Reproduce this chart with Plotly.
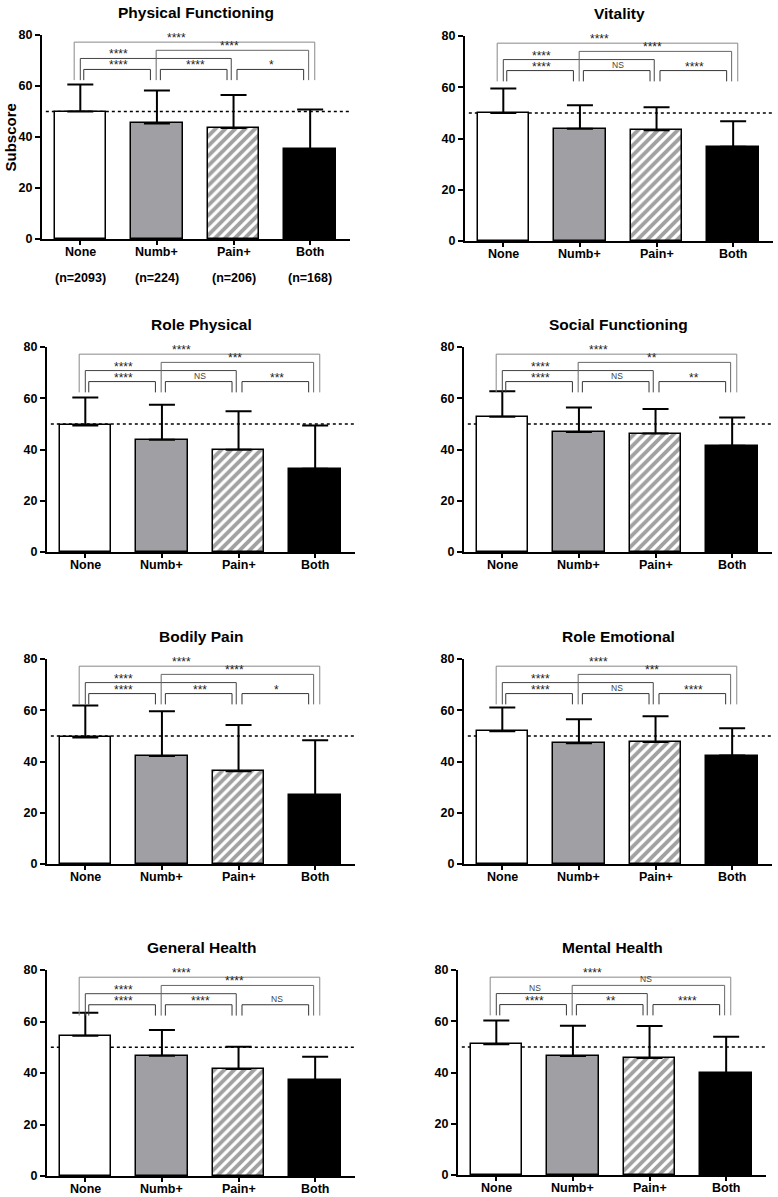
import plotly.graph_objects as go

# ---------------- data ----------------
categories = ["None", "Numb+", "Pain+", "Both"]
group_sizes = ["(n=2093)", "(n=224)", "(n=206)", "(n=168)"]
titles = ["Physical Functioning", "Vitality", "Role Physical", "Social Functioning",
          "Bodily Pain", "Role Emotional", "General Health", "Mental Health"]

# mean subscores (bar heights)
pf_mean = [50.0, 45.3, 43.5, 35.2]
vt_mean = [50.0, 43.8, 43.2, 36.8]
rp_mean = [49.4, 43.8, 39.9, 32.5]
sf_mean = [52.8, 46.8, 46.2, 41.5]
bp_mean = [49.4, 42.1, 36.2, 26.9]
re_mean = [51.8, 47.1, 47.6, 42.3]
gh_mean = [54.5, 46.7, 41.6, 37.1]
mh_mean = [51.0, 46.4, 45.7, 39.7]

# top of the error bar (mean + SD)
pf_upper = [60.6, 58.2, 56.5, 50.8]
vt_upper = [59.5, 53.0, 52.2, 46.7]
rp_upper = [60.3, 57.5, 54.9, 49.4]
sf_upper = [62.7, 56.4, 55.8, 52.5]
bp_upper = [61.9, 59.6, 54.2, 48.3]
re_upper = [61.1, 56.5, 57.7, 53.0]
gh_upper = [63.4, 56.7, 50.2, 46.3]
mh_upper = [60.3, 58.2, 58.1, 54.0]

# comparisons: (0,1) (1,2) (2,3) (0,2) (1,3) (0,3)
comparisons = [(0, 1), (1, 2), (2, 3), (0, 2), (1, 3), (0, 3)]
pf_sig = ["****", "****", "*", "****", "****", "****"]
vt_sig = ["****", "NS", "****", "****", "****", "****"]
rp_sig = ["****", "NS", "***", "****", "***", "****"]
sf_sig = ["****", "NS", "**", "****", "**", "****"]
bp_sig = ["****", "***", "*", "****", "****", "****"]
re_sig = ["****", "NS", "****", "****", "***", "****"]
gh_sig = ["****", "****", "NS", "****", "****", "****"]
mh_sig = ["****", "**", "****", "NS", "NS", "****"]

reference_level = 50

means = [pf_mean, vt_mean, rp_mean, sf_mean, bp_mean, re_mean, gh_mean, mh_mean]
uppers = [pf_upper, vt_upper, rp_upper, sf_upper, bp_upper, re_upper, gh_upper, mh_upper]
sigs = [pf_sig, vt_sig, rp_sig, sf_sig, bp_sig, re_sig, gh_sig, mh_sig]

# ---------------- styling / layout ----------------
FW, FH = 778, 1197
FONT = "Liberation Sans"
bar_colors = ["white", "#a0a0a4", "white", "black"]
bar_patterns = ["", "", "/", ""]


def px_x(p):
    return p / FW


def px_y(p):
    return 1 - p / FH


# plot-area pixel boxes: (x_left, y_top(80), y_bottom(0))
panel_px = [(42, 35, 239), (465, 36, 241),
            (47, 347, 552), (464, 347, 552),
            (47, 659, 864), (464, 659, 864),
            (47, 970, 1176), (458, 970, 1175)]
PANEL_W = 308
XR = [-0.5, 3.52]

# bracket geometry (offsets in category units, heights in data units)
br_x = {(0, 1): (0.045, 0.915), (1, 2): (1.045, 1.915), (2, 3): (2.045, 2.915),
        (0, 2): (0.0, 1.97), (1, 3): (0.99, 2.98), (0, 3): (-0.08, 3.06)}
br_top = {(0, 1): 66.5, (1, 2): 66.5, (2, 3): 66.5, (0, 2): 70.8, (1, 3): 74.0, (0, 3): 77.2}
br_lab_x = {(0, 1): 0.5, (1, 2): 1.5, (2, 3): 2.5, (0, 2): 0.5, (1, 3): 1.95, (0, 3): 1.25}
br_col = {(0, 1): "#333", (1, 2): "#333", (2, 3): "#333", (0, 2): "#444", (1, 3): "#666", (0, 3): "#888"}
LEG_BOTTOM = 62.3

fig = go.Figure()
annotations = []
shapes = []
layout = {}

for i in range(8):
    xl, yt, yb = panel_px[i]
    xa = "x" if i == 0 else f"x{i+1}"
    ya = "y" if i == 0 else f"y{i+1}"
    xkey = "xaxis" if i == 0 else f"xaxis{i+1}"
    ykey = "yaxis" if i == 0 else f"yaxis{i+1}"

    layout[xkey] = dict(
        domain=[px_x(xl), px_x(xl + PANEL_W)], anchor=ya, range=XR, automargin=False,
        tickvals=[0, 1, 2, 3], showticklabels=False, ticks="outside", ticklen=4,
        tickwidth=1.5, tickcolor="black", showline=True, linewidth=2, linecolor="black",
        showgrid=False, zeroline=False, fixedrange=True)
    layout[ykey] = dict(
        domain=[px_y(yb), px_y(yt)], anchor=xa, range=[0, 80], automargin=False,
        tickvals=[0, 20, 40, 60, 80], ticks="outside", ticklen=5, tickwidth=2,
        tickcolor="black", showline=True, linewidth=2, linecolor="black",
        showgrid=False, zeroline=False, fixedrange=True,
        tickfont=dict(family=FONT, size=12.5, color="black", weight="bold"))

    # category labels under each bar
    for j, c in enumerate(categories):
        annotations.append(dict(text=c, x=j, y=px_y(yb + 13), xref=xa, yref="paper",
                                xanchor="center", yanchor="middle", showarrow=False,
                                font=dict(family=FONT, size=12.5, color="black", weight="bold")))

    # reference dotted line (below bars)
    shapes.append(dict(type="line", xref=xa, yref=ya, x0=-0.45, x1=XR[1],
                       y0=reference_level, y1=reference_level, layer="below",
                       line=dict(color="black", width=1.5, dash="dot")))

    m = means[i]
    up = uppers[i]
    fig.add_trace(go.Bar(
        x=[0, 1, 2, 3], y=m, width=0.67, xaxis=xa, yaxis=ya,
        marker=dict(color=bar_colors, line=dict(color="black", width=1.5),
                    pattern=dict(shape=bar_patterns, fgcolor="#2a2a2a", size=7, solidity=0.55)),
        error_y=dict(type="data", symmetric=False,
                     array=[u - v for u, v in zip(up, m)], arrayminus=[0, 0, 0, 0],
                     color="black", thickness=2, width=13),
        showlegend=False, hoverinfo="skip"))

    # significance brackets
    for k, pair in enumerate(comparisons):
        x0, x1 = br_x[pair]
        top = br_top[pair]
        fig.add_trace(go.Scatter(
            x=[x0, x0, x1, x1], y=[LEG_BOTTOM, top, top, LEG_BOTTOM], mode="lines",
            line=dict(color=br_col[pair], width=1), xaxis=xa, yaxis=ya,
            showlegend=False, hoverinfo="skip"))
        lab = sigs[i][k]
        if lab == "NS":
            annotations.append(dict(text=lab, x=br_lab_x[pair], y=top, xref=xa, yref=ya,
                                    yanchor="bottom", yshift=-1, showarrow=False,
                                    font=dict(family=FONT, size=8.5, color="#444")))
        else:
            annotations.append(dict(text=lab, x=br_lab_x[pair], y=top, xref=xa, yref=ya,
                                    yanchor="bottom", yshift=-5, showarrow=False,
                                    font=dict(family=FONT, size=12, color="#222")))

    # panel title
    annotations.append(dict(text=titles[i], xref="paper", yref="paper",
                            x=px_x(xl + PANEL_W / 2), y=px_y(yt - 23),
                            xanchor="center", yanchor="middle", showarrow=False,
                            font=dict(family=FONT, size=15.5, color="black", weight="bold")))

# group sizes under first panel
for j, n in enumerate(group_sizes):
    annotations.append(dict(text=n, x=j, y=px_y(278), xref="x", yref="paper",
                            xanchor="center", yanchor="middle", showarrow=False,
                            font=dict(family=FONT, size=12.5, color="black", weight="bold")))

# y-axis title
annotations.append(dict(text="Subscore", x=px_x(10), y=px_y(137.5), xref="paper", yref="paper",
                        textangle=-90, xanchor="center", yanchor="middle", showarrow=False,
                        font=dict(family=FONT, size=15, color="black", weight="bold")))

fig.update_layout(
    width=FW, height=FH, margin=dict(l=0, r=0, t=0, b=0, pad=0, autoexpand=False),
    paper_bgcolor="white", plot_bgcolor="white",
    annotations=annotations, shapes=shapes, bargap=0, **layout)

# remove the browser's default 8px page margin so the figure fills the window exactly
fig.write_html("out.html", config={"displayModeBar": False},
               post_script="document.body.style.margin='0';")
